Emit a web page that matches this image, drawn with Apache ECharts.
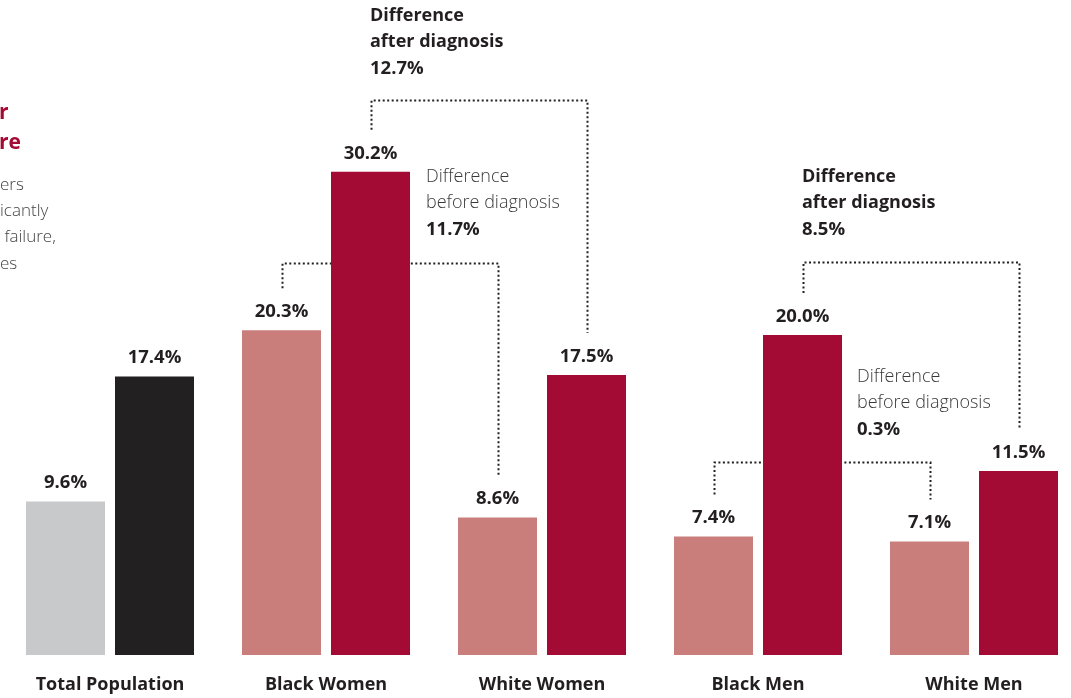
<!DOCTYPE html>
<html><head><meta charset="utf-8">
<script src="https://cdn.jsdelivr.net/npm/echarts@6/dist/echarts.min.js"></script>
<style>html,body{margin:0;padding:0;background:#fff;}#c{width:1071px;height:698px;}</style>
</head><body><div id="c"></div>
<script>
const categories = ['Total Population', 'Black Women', 'White Women', 'Black Men', 'White Men'];
const beforeValues = [9.6, 20.3, 8.6, 7.4, 7.1];
const afterValues = [17.4, 30.2, 17.5, 20.0, 11.5];
const beforeColors = ['#c8c9cb', '#c97e7c', '#c97e7c', '#c97e7c', '#c97e7c'];
const afterColors = ['#232021', '#a30b35', '#a30b35', '#a30b35', '#a30b35'];
// brackets: [fromCategory, toCategory, side(0 before,1 after), levelValue]
const brackets = [
  [1, 2, 0, 24.5],
  [1, 2, 1, 34.7],
  [3, 4, 0, 12.05],
  [3, 4, 1, 24.55]
];
const diffTexts = [
  ['Difference', 'after diagnosis', '12.7%'],
  ['Difference', 'before diagnosis', '11.7%'],
  ['Difference', 'after diagnosis', '8.5%'],
  ['Difference', 'before diagnosis', '0.3%']
];
const titleFragments = ['r', 're'];
const introFragments = ['ers', 'icantly', ' failure,', 'es'];

const FONT = '"Open Sans", Lato, sans-serif';
const BAR_W = 79, BAR_GAP = 10;
const chart = echarts.init(document.getElementById('c'));

function valAt(cat, side) { return side === 0 ? beforeValues[cat] : afterValues[cat]; }

const bracketData = brackets.map(b => [b[0], b[3], b[1], b[2], valAt(b[0], b[2]), valAt(b[1], b[2])]);

function txt(x, y, s, weight, color, size, align) {
  return { type: 'text', x: x, y: y, style: { text: s, fill: color || '#231f20',
    font: (weight || 'bold') + ' ' + (size || 18) + 'px ' + FONT, align: align || 'left', verticalAlign: 'middle' } };
}
const annPos = [[370, 16], [426, 177], [802, 177], [857, 377]];
const graphics = [];
diffTexts.forEach((t, i) => {
  const [x, y] = annPos[i];
  const after = t[1].indexOf('after') === 0;
  graphics.push(txt(x, y, t[0], after ? 'bold' : '300', after ? '#231f20' : '#3a3a3a'));
  graphics.push(txt(x, y + 26, t[1], after ? 'bold' : '300', after ? '#231f20' : '#3a3a3a'));
  graphics.push(txt(x, y + 53, t[2], 'bold', '#231f20', 18.5));
});
titleFragments.forEach((s, i) => graphics.push(txt(-1, 113 + i * 30, s, 'bold', '#a30b35', 21)));
introFragments.forEach((s, i) => graphics.push(txt(0, 185 + i * 26.3, s, '300', '#444', 17)));

const labelCfg = {
  show: true, position: 'top', distance: 9, color: '#231f20',
  fontFamily: FONT, fontWeight: 'bold', fontSize: 18.5,
  formatter: p => p.value.toFixed(1) + '%'
};

chart.setOption({
  animation: false,
  grid: { left: 2, width: 1080, top: 15, bottom: 43, containLabel: false, outerBoundsMode: 'none' },
  xAxis: {
    type: 'category', data: categories,
    axisLine: { show: false }, axisTick: { show: false },
    axisLabel: { margin: 21, color: '#231f20', fontFamily: FONT, fontWeight: 'bold', fontSize: 18 }
  },
  yAxis: { type: 'value', min: 0, max: 40, show: false, splitLine: { show: false } },
  series: [
    {
      type: 'custom', z: 1, data: bracketData, encode: { x: 0, y: 1 },
      renderItem: function (params, api) {
        const from = api.value(0), to = api.value(2), side = api.value(3);
        const level = api.value(1), fv = api.value(4), tv = api.value(5);
        const off = (side === 0 ? -1 : 1) * (BAR_W + BAR_GAP) / 2;
        const x1 = Math.round(api.coord([from, 0])[0] + off) + 0.5;
        const x2 = Math.round(api.coord([to, 0])[0] + off) + 0.5;
        const yl = Math.round(api.coord([from, level])[1]) + 0.5;
        const y1 = api.coord([from, fv])[1] - 42;
        const y2 = api.coord([to, tv])[1] - 42;
        return {
          type: 'polyline', silent: true,
          shape: { points: [[x1, y1], [x1, yl], [x2, yl], [x2, y2]] },
          style: { stroke: '#231f20', lineWidth: 2, lineDash: [2, 2.5], fill: null }
        };
      }
    },
    {
      type: 'bar', name: 'Before diagnosis', z: 2, barWidth: BAR_W, barGap: (BAR_GAP / BAR_W * 100) + '%',
      data: beforeValues.map((v, i) => ({ value: v, itemStyle: { color: beforeColors[i] } })),
      label: labelCfg
    },
    {
      type: 'bar', name: 'After diagnosis', z: 2, barWidth: BAR_W,
      data: afterValues.map((v, i) => ({ value: v, itemStyle: { color: afterColors[i] } })),
      label: labelCfg
    }
  ],
  graphic: graphics
});
</script></body></html>
